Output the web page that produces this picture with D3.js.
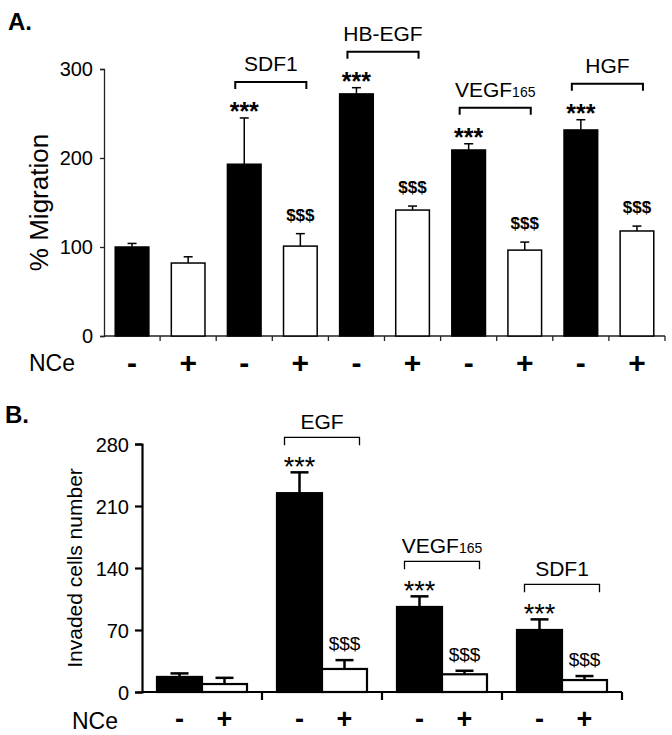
<!DOCTYPE html>
<html>
<head>
<meta charset="utf-8">
<script src="https://cdn.jsdelivr.net/npm/d3@7"></script>
<style>
  body { margin: 0; background: #fff; }
  text { font-family: "Liberation Sans", Arial, sans-serif; fill: #000; }
</style>
</head>
<body>
<svg id="chart"></svg>
<script>
// Panel A : % migration
const migrationNCe = ["-", "+", "-", "+", "-", "+", "-", "+", "-", "+"];
const migrationMean = [100, 82, 193, 101, 272, 141.5, 209, 96.5, 231.5, 118];
const migrationErr = [4, 7, 52, 14, 7, 4.5, 7, 9, 11.5, 5.5];
const migrationMarks = ["", "", "***", "$$$", "***", "$$$", "***", "$$$", "***", "$$$"];
const migrationTicks = [0, 100, 200, 300];
const migrationGroups = [
  { name: "SDF1", sub: "", first: 2 },
  { name: "HB-EGF", sub: "", first: 4 },
  { name: "VEGF", sub: "165", first: 6 },
  { name: "HGF", sub: "", first: 8 }
];

// Panel B : invaded cells
const invasionGroups = ["Control", "EGF", "VEGF165", "SDF1"];
const invasionNCe = ["-", "+"];
const invasionMinus = [17, 224.5, 96, 70];
const invasionMinusErr = [4, 23.5, 12, 12];
const invasionPlus = [9, 26, 20, 13.5];
const invasionPlusErr = [7, 10, 4, 4.5];
const invasionTicks = [0, 70, 140, 210, 280];
const invasionLabels = [
  { name: "", sub: "" },
  { name: "EGF", sub: "" },
  { name: "VEGF", sub: "165" },
  { name: "SDF1", sub: "" }
];

const W = 672, H = 735;
const svg = d3.select("#chart").attr("width", W).attr("height", H);

// ---------- A ----------
const xA = d3.scaleBand().domain(d3.range(migrationMean.length)).range([104, 665]).padding(0);
const yA = d3.scaleLinear().domain([0, 300]).range([336, 69]);
const barWA = xA.bandwidth() * 0.6;
const cxA = i => xA(i) + xA.bandwidth() / 2;

svg.append("text").attr("x", 8).attr("y", 30).attr("font-size", 24).attr("font-weight", "bold").text("A.");

const axA = svg.append("g").attr("transform", "translate(104,0)")
  .call(d3.axisLeft(yA).tickValues(migrationTicks).tickSize(4).tickPadding(7));
axA.select(".domain").attr("stroke", "#222").attr("stroke-width", 1.3);
axA.selectAll(".tick line").attr("stroke", "#222").attr("stroke-width", 1.3);
axA.selectAll(".tick text").attr("font-family", "'Liberation Serif', 'Times New Roman', serif").attr("font-size", 20).attr("dy", "0.34em");

// x axis with boundary ticks
const baseA = svg.append("g");
baseA.append("line").attr("x1", 104).attr("x2", 665).attr("y1", yA(0)).attr("y2", yA(0)).attr("stroke", "#222").attr("stroke-width", 1.3);
baseA.selectAll("line.tk").data(d3.range(1, migrationMean.length + 1)).enter().append("line")
  .attr("x1", i => xA(i - 1) + xA.bandwidth()).attr("x2", i => xA(i - 1) + xA.bandwidth())
  .attr("y1", yA(0)).attr("y2", yA(0) + 5).attr("stroke", "#222").attr("stroke-width", 1.3);

svg.append("text").attr("transform", `translate(48,${yA(150)}) rotate(-90)`).attr("text-anchor", "middle")
  .attr("font-size", 26).text("% Migration");

svg.selectAll(".barA").data(migrationMean).enter().append("rect")
  .attr("x", (d, i) => cxA(i) - barWA / 2).attr("width", barWA)
  .attr("y", d => yA(d)).attr("height", d => yA(0) - yA(d))
  .attr("fill", (d, i) => i % 2 === 0 ? "#000" : "#fff")
  .attr("stroke", "#000").attr("stroke-width", 1.5);

const errA = svg.append("g").attr("stroke", "#000").attr("stroke-width", 1.5);
migrationMean.forEach((m, i) => {
  const top = yA(m + migrationErr[i]);
  errA.append("line").attr("x1", cxA(i)).attr("x2", cxA(i)).attr("y1", yA(m)).attr("y2", top);
  errA.append("line").attr("x1", cxA(i) - 4.5).attr("x2", cxA(i) + 4.5).attr("y1", top).attr("y2", top);
  if (migrationMarks[i] === "***") {
    svg.append("text").attr("x", cxA(i)).attr("y", top - 12).attr("dy", "0.58em").attr("text-anchor", "middle")
      .attr("font-size", 25).attr("font-weight", "bold").text("***");
  } else if (migrationMarks[i] === "$$$") {
    svg.append("text").attr("x", cxA(i)).attr("y", top - 19).attr("dy", "0.36em").attr("text-anchor", "middle")
      .attr("font-size", 17).attr("font-weight", "bold").text("$$$");
  }
});

migrationGroups.forEach(g => {
  const top = yA(migrationMean[g.first] + migrationErr[g.first]) - 36;
  const x1 = cxA(g.first) - 9, x2 = cxA(g.first + 1) + 6;
  svg.append("path").attr("d", `M${x1},${top + 7}V${top}H${x2}V${top + 7}`)
    .attr("fill", "none").attr("stroke", "#000").attr("stroke-width", 2);
  const t = svg.append("text").attr("x", (x1 + x2) / 2).attr("y", top - 11).attr("text-anchor", "middle").attr("font-size", 21).text(g.name);
  if (g.sub) t.append("tspan").attr("font-size", 14).text(g.sub);
});

svg.append("text").attr("x", 29).attr("y", 363).attr("dy", "0.36em").attr("font-size", 23).text("NCe");
svg.selectAll(".nceA").data(migrationNCe).enter().append("text")
  .attr("x", (d, i) => cxA(i)).attr("y", 363).attr("dy", "0.33em").attr("text-anchor", "middle")
  .attr("font-size", 30).attr("font-weight", "bold").text(d => d);

// ---------- B ----------
const xB = d3.scaleBand().domain(invasionGroups).range([142, 622]).padding(0);
const xBin = d3.scaleBand().domain(invasionNCe).range([0, xB.bandwidth()]).paddingInner(0).paddingOuter(1 / 3);
const yB = d3.scaleLinear().domain([0, 280]).range([692, 444]);
const cxB = (g, k) => xB(g) + xBin(k) + xBin.bandwidth() / 2;

svg.append("text").attr("x", 5).attr("y", 423).attr("font-size", 24).attr("font-weight", "bold").text("B.");

const axB = svg.append("g").attr("transform", "translate(142,0)")
  .call(d3.axisLeft(yB).tickValues(invasionTicks).tickSize(7).tickPadding(6));
axB.select(".domain").attr("stroke", "#000").attr("stroke-width", 2.2);
axB.selectAll(".tick line").attr("stroke", "#000").attr("stroke-width", 2.2);
axB.selectAll(".tick text").attr("font-size", 20).attr("dy", "0.35em");

const baseB = svg.append("g");
baseB.append("line").attr("x1", 142).attr("x2", 622).attr("y1", yB(0)).attr("y2", yB(0)).attr("stroke", "#000").attr("stroke-width", 2.2);
baseB.selectAll("line.tk").data(invasionGroups).enter().append("line")
  .attr("x1", g => xB(g) + xB.bandwidth()).attr("x2", g => xB(g) + xB.bandwidth())
  .attr("y1", yB(0)).attr("y2", yB(0) + 8).attr("stroke", "#000").attr("stroke-width", 2.2);

svg.append("text").attr("transform", `translate(82,${yB(140)}) rotate(-90)`).attr("text-anchor", "middle")
  .attr("font-size", 21).text("Invaded cells number");

const barsB = [];
invasionGroups.forEach((g, i) => {
  barsB.push({ g, k: "-", v: invasionMinus[i], e: invasionMinusErr[i], mark: i > 0 ? "***" : "" });
  barsB.push({ g, k: "+", v: invasionPlus[i], e: invasionPlusErr[i], mark: i > 0 ? "$$$" : "" });
});

svg.selectAll(".barB").data(barsB).enter().append("rect")
  .attr("x", d => xB(d.g) + xBin(d.k)).attr("width", xBin.bandwidth())
  .attr("y", d => yB(d.v)).attr("height", d => yB(0) - yB(d.v))
  .attr("fill", d => d.k === "-" ? "#000" : "#fff")
  .attr("stroke", "#000").attr("stroke-width", 2.2);

const errB = svg.append("g").attr("stroke", "#000").attr("stroke-width", 2.5);
barsB.forEach(d => {
  const cx = cxB(d.g, d.k), top = yB(d.v + d.e);
  errB.append("line").attr("x1", cx).attr("x2", cx).attr("y1", yB(d.v)).attr("y2", top);
  errB.append("line").attr("x1", cx - 9).attr("x2", cx + 9).attr("y1", top).attr("y2", top);
  if (d.mark === "***") {
    svg.append("text").attr("x", cx).attr("y", top - 12).attr("dy", "0.58em").attr("text-anchor", "middle")
      .attr("font-size", 27).text("***");
  } else if (d.mark === "$$$") {
    svg.append("text").attr("x", cx).attr("y", top - 17).attr("dy", "0.36em").attr("text-anchor", "middle")
      .attr("font-size", 19).text("$$$");
  }
});

invasionGroups.forEach((g, i) => {
  const lab = invasionLabels[i];
  if (!lab.name) return;
  const top = yB(invasionMinus[i] + invasionMinusErr[i]) - 35;
  const x1 = cxB(g, "-") - 15, x2 = cxB(g, "+") + 15;
  svg.append("path").attr("d", `M${x1},${top + 8}V${top}H${x2}V${top + 8}`)
    .attr("fill", "none").attr("stroke", "#000").attr("stroke-width", 1.3);
  const t = svg.append("text").attr("x", (x1 + x2) / 2).attr("y", top - 8).attr("text-anchor", "middle").attr("font-size", 21).text(lab.name);
  if (lab.sub) t.append("tspan").attr("font-size", 14).text(lab.sub);
});

svg.append("text").attr("x", 72).attr("y", 721).attr("dy", "0.36em").attr("font-size", 23).text("NCe");
svg.selectAll(".nceB").data(barsB).enter().append("text")
  .attr("x", d => cxB(d.g, d.k)).attr("y", 719).attr("dy", "0.33em").attr("text-anchor", "middle")
  .attr("font-size", 27).attr("font-weight", "bold").text(d => d.k);
</script>
</body>
</html>
